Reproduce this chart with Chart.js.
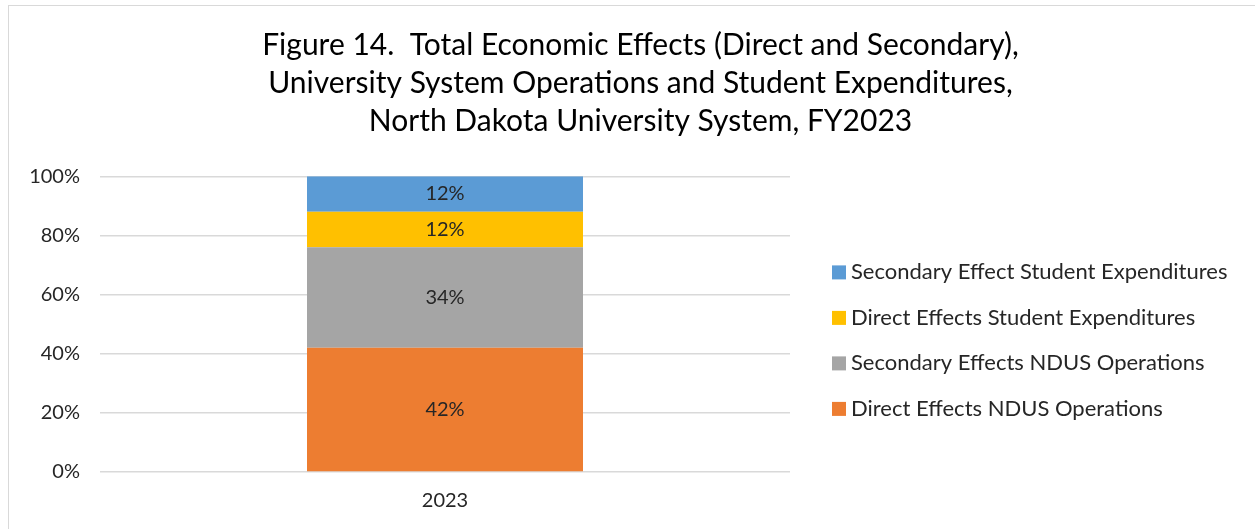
<!DOCTYPE html>
<html>
<head>
<meta charset="utf-8">
<script src="https://cdn.jsdelivr.net/npm/chart.js@4"></script>
<style>
  html, body { margin: 0; padding: 0; background: #ffffff; }
  #wrap { position: relative; width: 1255px; height: 529px; overflow: hidden; }
  #frame { position: absolute; left: 8px; top: 5px; width: 1300px; height: 600px;
           border-left: 1px solid #d9d9d9; border-top: 1px solid #d9d9d9; }
  canvas { position: absolute; left: 0; top: 0; }
</style>
</head>
<body>
<div id="wrap">
  <div id="frame"></div>
  <canvas id="c" width="1255" height="529"></canvas>
</div>
<script>
const titleLines = [
  "Figure 14.  Total Economic Effects (Direct and Secondary),",
  "University System Operations and Student Expenditures,",
  "North Dakota University System, FY2023"
];
const categories = ["2023"];
const seriesNames = [
  "Direct Effects NDUS Operations",
  "Secondary Effects NDUS Operations",
  "Direct Effects Student Expenditures",
  "Secondary Effect Student Expenditures"
];
const directNdusOps = [42];
const secondaryNdusOps = [34];
const directStudentExp = [12];
const secondaryStudentExp = [12];
const yTicks = [0, 20, 40, 60, 80, 100];
const colors = ["#ED7D31", "#A5A5A5", "#FFC000", "#5B9BD5"];

const FONT = "Lato, 'Open Sans', sans-serif";
const TXT = "#262626";

const seriesValues = [directNdusOps, secondaryNdusOps, directStudentExp, secondaryStudentExp];

const valueLabels = {
  id: "valueLabels",
  afterDatasetsDraw(chart) {
    const ctx = chart.ctx;
    ctx.save();
    ctx.font = "20px " + FONT;
    ctx.fillStyle = TXT;
    ctx.textAlign = "center";
    ctx.textBaseline = "middle";
    chart.data.datasets.forEach((ds, i) => {
      const meta = chart.getDatasetMeta(i);
      meta.data.forEach((el, j) => {
        const v = ds.data[j];
        ctx.fillText(v + "%", el.x, (el.y + el.base) / 2);
      });
    });
    ctx.restore();
  }
};

// Legend drawn in the reserved right-hand area (series in reverse order, like the reference)
const sideLegend = {
  id: "sideLegend",
  afterDraw(chart) {
    const ctx = chart.ctx;
    const area = chart.chartArea;
    const ds = chart.data.datasets.slice().reverse();
    const step = 45.5;
    const mid = (area.top + area.bottom) / 2 + 16.5;
    const y0 = mid - step * (ds.length - 1) / 2;
    const boxX = area.right + 42;
    ctx.save();
    ctx.font = "22px " + FONT;
    ctx.textAlign = "left";
    ctx.textBaseline = "middle";
    ds.forEach((d, i) => {
      const y = y0 + i * step;
      ctx.fillStyle = d.backgroundColor;
      ctx.fillRect(boxX, y - 7, 14, 14);
      ctx.fillStyle = TXT;
      ctx.fillText(d.label, boxX + 19, y);
    });
    ctx.restore();
  }
};

new Chart(document.getElementById("c"), {
  type: "bar",
  data: {
    labels: categories,
    datasets: seriesNames.map((name, i) => ({
      label: name,
      data: seriesValues[i],
      backgroundColor: colors[i],
      borderWidth: 0,
      barPercentage: 0.4,
      categoryPercentage: 1.0
    }))
  },
  options: {
    responsive: false,
    animation: false,
    layout: { padding: { left: 26, right: 0, top: 0, bottom: 0 } },
    plugins: {
      title: {
        display: true,
        text: titleLines,
        color: "#000000",
        font: { family: FONT, size: 30, weight: "normal", lineHeight: 1.27 },
        padding: { top: 26, bottom: 36 }
      },
      legend: { display: false },
      tooltip: { enabled: false }
    },
    scales: {
      x: {
        stacked: true,
        grid: { display: false, drawTicks: false },
        border: { display: false },
        ticks: { color: TXT, font: { family: FONT, size: 20 }, padding: 16.5 }
      },
      y: {
        stacked: true,
        min: 0,
        max: 100,
        afterBuildTicks(scale) { scale.ticks = yTicks.map(v => ({ value: v })); },
        afterFit(scale) { scale.width = 74; },
        grid: { color: "#D9D9D9", lineWidth: 1.5, drawTicks: false },
        border: { display: false },
        ticks: {
          color: TXT,
          font: { family: FONT, size: 20 },
          padding: 20,
          callback: v => v + "%"
        }
      },
      legendSpace: {
        position: "right",
        display: true,
        grid: { display: false, drawTicks: false },
        border: { display: false },
        ticks: { display: false },
        afterFit(scale) { scale.width = 465; }
      }
    }
  },
  plugins: [valueLabels, sideLegend]
});
</script>
</body>
</html>
